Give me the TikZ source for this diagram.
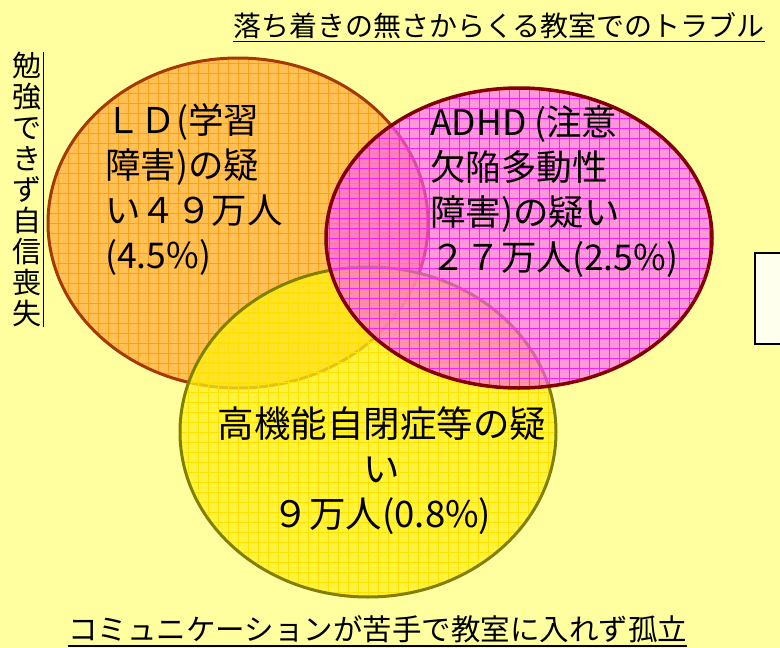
\documentclass[tikz,border=0pt]{standalone}
\usepackage{fontspec}
\setmainfont{Noto Sans CJK JP}
\usetikzlibrary{shapes.geometric}

\definecolor{bgyellow}{RGB}{255,255,160}
\definecolor{ldfill}{RGB}{255,192,85}
\definecolor{ldgrid}{RGB}{255,160,20}
\definecolor{ldborder}{RGB}{165,55,0}
\definecolor{hfafill}{RGB}{255,240,30}
\definecolor{hfagrid}{RGB}{255,225,0}
\definecolor{hfaborder}{RGB}{128,128,0}
\definecolor{adhdfill}{RGB}{255,90,255}
\definecolor{adhdgrid}{RGB}{255,30,240}
\definecolor{adhdborder}{RGB}{130,0,0}
\definecolor{boxfill}{RGB}{255,255,238}

\begin{document}
\begin{tikzpicture}[
			x=1pt, y=-1pt,
			set/.style={ellipse, inner sep=0pt, line width=3pt},
			gridded/.style={path picture={\draw[#1, line width=0.5pt, step=10pt] (path picture bounding box.south west) grid (path picture bounding box.north east);}},
			body/.style={font=\fontsize{35.5}{45}\selectfont, inner sep=0pt},
			heading/.style={font=\fontsize{28}{31}\selectfont, inner sep=0pt},
			]
			\fill[bgyellow] (0,0) rectangle (780,648);
			\useasboundingbox (0,0) rectangle (780,648);

			\node[draw=black, line width=1.5pt, fill=boxfill, minimum width=60pt, minimum height=91pt, anchor=north west] (blank) at (754,252) {};

			\node[set, draw=ldborder, fill=ldfill, gridded=ldgrid, minimum width=380pt, minimum height=330pt] (ld) at (238,223) {};
			\node[set, draw=hfaborder, fill=hfafill, fill opacity=0.75, gridded=hfagrid, minimum width=376pt, minimum height=330pt] (hfa) at (368,432) {};
			\node[set, draw=adhdborder, line width=3.5pt, fill=adhdfill, fill opacity=0.62, gridded=adhdgrid, minimum width=386pt, minimum height=300pt] (adhd) at (519,238) {};

			\node[body, align=left, anchor=north west] (ldtext) at (105,103) {ＬＤ(学習\\障害)の疑\\い４９万人\\(4.5\%)};
			\node[body, align=left, anchor=north west] (adhdtext) at (430,105) {ADHD (注意\\欠陥多動性\\障害)の疑い\\２７万人(2.5\%)};
			\node[body, font=\fontsize{36.5}{45}\selectfont, align=center, anchor=north] (hfatext) at (382,406) {高機能自閉症等の疑\\い\\９万人(0.8\%)};

			\node[heading, anchor=north west] (restless) at (233,12) {落ち着きの無さからくる教室でのトラブル};
			\draw[line width=1.5pt] ([yshift=-3pt]restless.south west) -- ([yshift=-3pt]restless.south east);

			\node[heading, font=\fontsize{29.5}{31}\selectfont, anchor=north west] (isolated) at (68,615) {コミュニケーションが苦手で教室に入れず孤立};
			\draw[line width=1.5pt] ([yshift=-3pt]isolated.south west) -- ([yshift=-3pt]isolated.south east);

			\node[heading, font=\fontsize{29}{31}\selectfont, align=center, anchor=north, inner xsep=2pt] (confidence) at (27,52) {勉\\強\\で\\き\\ず\\自\\信\\喪\\失};
			\draw[line width=1.5pt] (confidence.north east) -- (confidence.south east);
		\end{tikzpicture}
\end{document}
